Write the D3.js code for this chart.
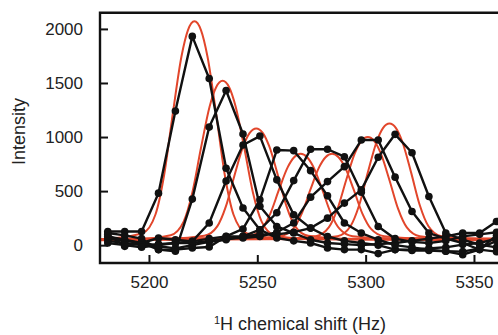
<!DOCTYPE html>
<html>
<head>
<meta charset="utf-8">
<script src="https://cdn.jsdelivr.net/npm/d3@7"></script>
<style>
  body { margin: 0; background: #fff; }
  svg { display: block; font-family: "Liberation Sans", Arial, sans-serif; }
</style>
</head>
<body>
<script>
// Sampled spectra share one frequency grid (Hz)
const gridX = [5181, 5188.8, 5196.6, 5204.4, 5212.2, 5220, 5227.8, 5235.6, 5243.4, 5251.2,
    5259, 5266.8, 5274.6, 5282.4, 5290.2, 5298, 5305.8, 5313.6, 5321.4, 5329.2,
    5337, 5344.8, 5352.6, 5360.4, 5368.2]

// Measured intensities (black, with points)
const spec1 = [127, 127, 127, 481, 1240, 1931, 1541, 711, 343, 143, 66, 40, 20, -26, -41, -41, -78, -41, -50, -50, -57, -88, -40, 90, 110]
const spec2 = [100, -11, 20, -41, -57, 426, 1092, 1430, 1028, 360, 173, 112, 50, 20, 10, 0, 10, 20, 40, 60, 81, 112, 112, 219, 230]
const spec3 = [80, 50, 20, 66, 50, 35, 205, 594, 926, 1009, 604, 281, 158, 80, 40, 20, 0, -41, -41, -30, -20, 5, 20, 60, 80]
const spec4 = [112, 90, 60, -41, -41, -26, -17, 81, 150, 419, 880, 874, 689, 456, 205, 112, 50, 0, -20, -41, -57, -60, -30, 40, 60]
const spec5 = [60, 40, 20, -10, -30, 0, 30, 50, 81, 143, 300, 597, 887, 887, 818, 490, 173, 60, 30, 20, 40, 81, 100, 120, 120]
const spec6 = [40, 20, 0, 10, 20, 20, 40, 60, 66, 80, 120, 205, 444, 588, 726, 972, 972, 629, 311, 112, 60, 20, -41, -60, -40]
const spec7 = [20, 0, -20, 0, 20, 35, 60, 80, 81, 100, 100, 120, 158, 250, 389, 511, 813, 1025, 855, 450, 112, 50, 5, -20, 0]
const spectra = [spec1, spec2, spec3, spec4, spec5, spec6, spec7]

const fit1X = [5150, 5181, 5197, 5203, 5207, 5211, 5215, 5218, 5221, 5224, 5227, 5231, 5235, 5239, 5245, 5261, 5400]
const fit1Y = [40, 60, 111, 284, 649, 1217, 1745, 1989, 2070, 1989, 1745, 1217, 649, 284, 111, 60, 40]
const fit2X = [5150, 5194, 5210, 5216, 5220, 5224, 5228, 5231, 5234, 5237, 5240, 5244, 5248, 5252, 5258, 5274, 5400]
const fit2Y = [40, 55, 92, 218, 484, 898, 1283, 1461, 1520, 1461, 1283, 898, 484, 218, 92, 55, 40]
const fit3X = [5150, 5209.5, 5225.5, 5231.5, 5235.5, 5239.5, 5243.5, 5246.5, 5249.5, 5252.5, 5255.5, 5259.5, 5263.5, 5267.5, 5273.5, 5289.5, 5400]
const fit3Y = [50, 60, 86, 174, 359, 647, 915, 1039, 1080, 1039, 915, 647, 359, 174, 86, 60, 50]
const fit4X = [5150, 5230, 5246, 5252, 5256, 5260, 5264, 5267, 5270, 5273, 5276, 5280, 5284, 5288, 5294, 5310, 5400]
const fit4Y = [55, 63, 83, 150, 292, 513, 719, 813, 845, 813, 719, 513, 292, 150, 83, 63, 55]
const fit5X = [5150, 5244.5, 5260.5, 5266.5, 5270.5, 5274.5, 5278.5, 5281.5, 5284.5, 5287.5, 5290.5, 5294.5, 5298.5, 5302.5, 5308.5, 5324.5, 5400]
const fit5Y = [55, 63, 83, 150, 292, 513, 719, 813, 845, 813, 719, 513, 292, 150, 83, 63, 55]
const fit6X = [5150, 5261, 5277, 5283, 5287, 5291, 5295, 5298, 5301, 5304, 5307, 5311, 5315, 5319, 5325, 5341, 5400]
const fit6Y = [50, 60, 83, 164, 335, 601, 848, 962, 1000, 962, 848, 601, 335, 164, 83, 60, 50]
const fit7X = [5150, 5271, 5287, 5293, 5297, 5301, 5305, 5308, 5311, 5314, 5317, 5321, 5325, 5329, 5335, 5351, 5400]
const fit7Y = [45, 56, 83, 175, 369, 671, 952, 1082, 1125, 1082, 952, 671, 369, 175, 83, 56, 45]
const fitsX = [fit1X, fit2X, fit3X, fit4X, fit5X, fit6X, fit7X]
const fitsY = [fit1Y, fit2Y, fit3Y, fit4Y, fit5Y, fit6Y, fit7Y]

const xTicks = [5200, 5250, 5300, 5350]
const yTicks = [0, 500, 1000, 1500, 2000]

const W = 498, H = 335
const margin = { top: 12.7, left: 100, bottom: 72 }
const plotW = 500
const plotH = H - margin.top - margin.bottom

const svg = d3.select('body').append('svg')
    .attr('width', W)
    .attr('height', H)

const g = svg.append('g')
    .attr('transform', `translate(${margin.left}, ${margin.top})`)

const xScale = d3.scaleLinear()
    .domain([5177.4, 5177.4 + plotW / 2.1667])
    .range([0, plotW])

const yScale = d3.scaleLinear()
    .domain([-165, 2150])
    .range([plotH, 0])

g.append('clipPath').attr('id', 'plotClip')
    .append('rect')
    .attr('width', plotW)
    .attr('height', plotH)

const plot = g.append('g').attr('clip-path', 'url(#plotClip)')

// Red fitted curves
const fitLine = d3.line()
    .x(d => xScale(d[0]))
    .y(d => yScale(d[1]))
    .curve(d3.curveMonotoneX)

fitsX.forEach((xs, i) => {
    plot.append('path')
        .datum(xs.map((x, j) => [x, fitsY[i][j]]))
        .style('fill', 'none')
        .style('stroke', '#e2462b')
        .style('stroke-width', 2)
        .attr('d', fitLine)
})

// Black measured spectra
const specLine = d3.line()
    .x((d, i) => xScale(gridX[i]))
    .y(d => yScale(d))

spectra.forEach(s => {
    plot.append('path')
        .datum(s)
        .style('fill', 'none')
        .style('stroke', '#111')
        .style('stroke-width', 2.4)
        .style('stroke-linejoin', 'round')
        .attr('d', specLine)
    plot.selectAll(null)
        .data(s)
        .enter().append('circle')
        .attr('cx', (d, i) => xScale(gridX[i]))
        .attr('cy', d => yScale(d))
        .attr('r', 3.8)
        .style('fill', '#111')
})

// Axes with inward ticks
const yAxis = g.append('g')
    .call(d3.axisLeft(yScale).tickValues(yTicks).tickFormat(d3.format('d')).tickSize(-8).tickPadding(17))
const xAxis = g.append('g')
    .attr('transform', `translate(0, ${plotH})`)
    .call(d3.axisBottom(xScale).tickValues(xTicks).tickFormat(d3.format('d')).tickSize(-8).tickPadding(13))

;[yAxis, xAxis].forEach(a => {
    a.select('.domain').remove()
    a.selectAll('line').style('stroke', '#111').style('stroke-width', 2)
    a.selectAll('text')
        .style('font-size', '17px')
        .style('fill', '#222')
        .style('font-family', '"Liberation Sans", Arial, sans-serif')
})

// Frame: left, bottom and top
g.append('path')
    .attr('d', `M${plotW},0H0V${plotH}H${plotW}`)
    .style('fill', 'none')
    .style('stroke', '#111')
    .style('stroke-width', 2.4)

// Axis titles
svg.append('text')
    .attr('transform', 'translate(25, 131.5) rotate(-90)')
    .attr('text-anchor', 'middle')
    .style('font-size', '18px')
    .style('fill', '#222')
    .text('Intensity')

const xl = svg.append('text')
    .attr('x', 300)
    .attr('y', 330)
    .attr('text-anchor', 'middle')
    .style('font-size', '18px')
    .style('fill', '#222')
xl.append('tspan').attr('dy', '-6').style('font-size', '11px').text('1')
xl.append('tspan').attr('dy', '6').text('H chemical shift (Hz)')
</script>
</body>
</html>
